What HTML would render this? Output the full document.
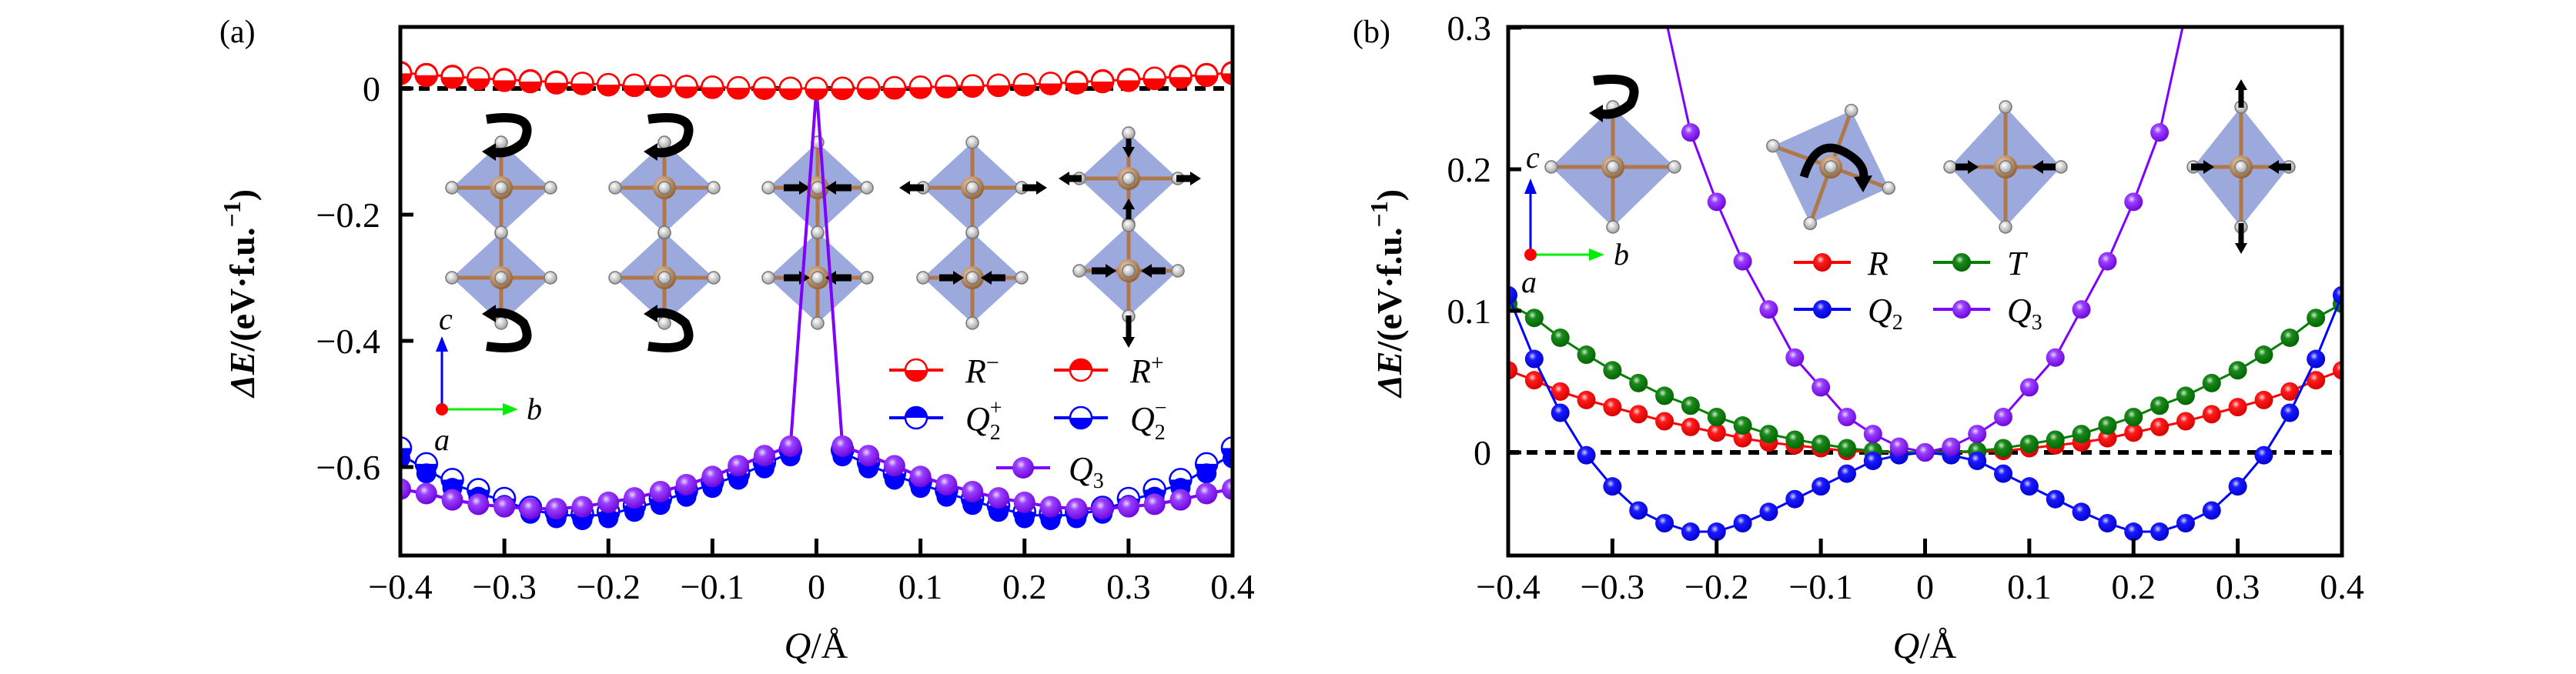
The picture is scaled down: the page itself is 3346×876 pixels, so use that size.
<!DOCTYPE html>
<html><head><meta charset="utf-8"><style>
html,body{margin:0;padding:0;background:#fff;}
svg{display:block;font-family:"Liberation Serif",serif;}
</style></head><body>
<svg id="fig" width="3346" height="876" viewBox="0 0 3346 876" xmlns="http://www.w3.org/2000/svg">
<defs>
<radialGradient id="gPurple" cx="0.4" cy="0.35" r="0.7"><stop offset="0" stop-color="#e8d8ff"/><stop offset="0.3" stop-color="#9a40ff"/><stop offset="1" stop-color="#6a00d8"/></radialGradient>
<radialGradient id="gRed" cx="0.4" cy="0.35" r="0.7"><stop offset="0" stop-color="#ffd0d0"/><stop offset="0.3" stop-color="#ff1a1a"/><stop offset="1" stop-color="#d00000"/></radialGradient>
<radialGradient id="gGreen" cx="0.4" cy="0.35" r="0.7"><stop offset="0" stop-color="#cfe8cf"/><stop offset="0.3" stop-color="#1a8a1a"/><stop offset="1" stop-color="#006000"/></radialGradient>
<radialGradient id="gBlue" cx="0.4" cy="0.35" r="0.7"><stop offset="0" stop-color="#d0d0ff"/><stop offset="0.3" stop-color="#1a1aff"/><stop offset="1" stop-color="#0000c8"/></radialGradient>
<radialGradient id="gBall" cx="0.4" cy="0.35" r="0.7"><stop offset="0" stop-color="#fff"/><stop offset="1" stop-color="#999"/></radialGradient>
<radialGradient id="gCu" cx="0.4" cy="0.35" r="0.7"><stop offset="0" stop-color="#f0d0b0"/><stop offset="1" stop-color="#8a5a30"/></radialGradient>
<clipPath id="clipA"><rect x="520" y="35" width="1081" height="687"/></clipPath>
<clipPath id="clipB"><rect x="1959" y="35" width="1083" height="687"/></clipPath>
</defs>
<g id="insets"></g>
<g id="panelA"></g>
<g id="panelB"></g>
</svg>
<script>
// ---------- Panel (a) data ----------
const qA = [-0.4,-0.375,-0.35,-0.325,-0.3,-0.275,-0.25,-0.225,-0.2,-0.175,-0.15,-0.125,-0.1,-0.075,-0.05,-0.025,0,0.025,0.05,0.075,0.1,0.125,0.15,0.175,0.2,0.225,0.25,0.275,0.3,0.325,0.35,0.375,0.4];
const rMinusA = [0.025,0.022,0.019,0.016,0.014,0.012,0.010,0.008,0.006,0.005,0.004,0.003,0.002,0.001,0.0005,0.0002,0,0.0002,0.0005,0.001,0.002,0.003,0.004,0.005,0.006,0.008,0.010,0.012,0.014,0.016,0.019,0.022,0.025];
const rPlusA = [0.024,0.021,0.018,0.016,0.013,0.011,0.009,0.008,0.006,0.005,0.004,0.003,0.002,0.001,0.0005,0.0002,0,0.0002,0.0005,0.001,0.002,0.003,0.004,0.005,0.006,0.008,0.009,0.011,0.013,0.016,0.018,0.021,0.024];
const q2PlusA = [-0.580,-0.604,-0.627,-0.641,-0.654,-0.668,-0.675,-0.678,-0.675,-0.665,-0.654,-0.641,-0.627,-0.614,-0.596,-0.577,0,-0.577,-0.596,-0.614,-0.627,-0.641,-0.654,-0.665,-0.675,-0.678,-0.675,-0.668,-0.654,-0.641,-0.627,-0.604,-0.580];
const q2MinusA = [-0.570,-0.595,-0.620,-0.636,-0.650,-0.664,-0.671,-0.674,-0.671,-0.661,-0.650,-0.637,-0.623,-0.610,-0.592,-0.573,0,-0.573,-0.592,-0.610,-0.623,-0.637,-0.650,-0.661,-0.671,-0.674,-0.671,-0.664,-0.650,-0.636,-0.620,-0.595,-0.570];
const q3A = [-0.635,-0.642,-0.652,-0.659,-0.663,-0.666,-0.666,-0.663,-0.656,-0.649,-0.639,-0.628,-0.615,-0.598,-0.582,-0.567,0,-0.567,-0.582,-0.598,-0.615,-0.628,-0.639,-0.649,-0.656,-0.663,-0.666,-0.666,-0.663,-0.659,-0.652,-0.642,-0.635];
const xTicksA = [-0.4,-0.3,-0.2,-0.1,0,0.1,0.2,0.3,0.4];
const xTickLabelsA = ["\u22120.4","\u22120.3","\u22120.2","\u22120.1","0","0.1","0.2","0.3","0.4"];
const yTicksA = [0,-0.2,-0.4,-0.6];
const yTickLabelsA = ["0","\u22120.2","\u22120.4","\u22120.6"];

// ---------- Panel (b) data ----------
const qB = qA.slice();
const rB = [0.058,0.051,0.043,0.037,0.032,0.027,0.022,0.018,0.014,0.010,0.007,0.005,0.003,0.001,0.0005,0.0001,0,0.0001,0.0005,0.001,0.003,0.005,0.007,0.010,0.014,0.018,0.022,0.027,0.032,0.037,0.043,0.051,0.058];
const tB = [0.105,0.095,0.081,0.069,0.058,0.049,0.040,0.033,0.025,0.019,0.013,0.009,0.006,0.003,0.001,0.0003,0,0.0003,0.001,0.003,0.006,0.009,0.013,0.019,0.025,0.033,0.040,0.049,0.058,0.069,0.081,0.095,0.105];
const q2B = [0.111,0.066,0.028,-0.002,-0.024,-0.041,-0.050,-0.056,-0.056,-0.050,-0.042,-0.033,-0.024,-0.015,-0.006,-0.002,0,-0.002,-0.006,-0.015,-0.024,-0.033,-0.042,-0.050,-0.056,-0.056,-0.050,-0.041,-0.024,-0.002,0.028,0.066,0.111];
const qQ3B = [-0.25,-0.225,-0.2,-0.175,-0.15,-0.125,-0.1,-0.075,-0.05,-0.025,0,0.025,0.05,0.075,0.1,0.125,0.15,0.175,0.2,0.225,0.25];
const q3B = [0.31,0.226,0.177,0.135,0.101,0.067,0.046,0.025,0.013,0.004,0,0.004,0.013,0.025,0.046,0.067,0.101,0.135,0.177,0.226,0.31];
const xTicksB = xTicksA.slice();
const xTickLabelsB = xTickLabelsA.slice();
const yTicksB = [0,0.1,0.2,0.3];
const yTickLabelsB = ["0","0.1","0.2","0.3"];

const NS = "http://www.w3.org/2000/svg";
function mk(tag, attrs, parent){const e=document.createElementNS(NS,tag);for(const k in attrs)e.setAttribute(k,attrs[k]);parent.appendChild(e);return e;}

const xA = v => 520 + (v+0.4)/0.8*1081;
const yA = v => 115 - v*820;
const xB = v => 1959 + (v+0.4)/0.8*1083;
const yB = v => 588 - v*1840;

function halfMarker(g,cx,cy,r,color,bottomFilled){
  const c=mk('circle',{cx:cx,cy:cy,r:r,fill:'#fff',stroke:color,'stroke-width':2.5},g);
  const d = bottomFilled ? `M${cx-r},${cy} A${r},${r} 0 0 0 ${cx+r},${cy} Z` : `M${cx-r},${cy} A${r},${r} 0 0 1 ${cx+r},${cy} Z`;
  mk('path',{d:d,fill:color},g);
  return c;
}
function line(g,xs,ys,fx,fy,color,w){
  const pts=xs.map((x,i)=>fx(x)+','+fy(ys[i])).join(' ');
  return mk('polyline',{points:pts,fill:'none',stroke:color,'stroke-width':w},g);
}

// ---------- Insets (octahedra) ----------
const ins=document.getElementById('insets');
function octa(cx,cy,hw,hh,rot){
  const g=mk('g',{transform:`translate(${cx},${cy}) rotate(${rot||0})`},ins);
  
  
  mk('polygon',{points:`0,${-hh} ${hw},0 0,${hh} ${-hw},0`,fill:'#7a8cd0','fill-opacity':0.75},g);
  mk('line',{x1:-hw,y1:0,x2:hw,y2:0,stroke:'#b07848','stroke-width':5},g);
  mk('line',{x1:0,y1:-hh,x2:0,y2:hh,stroke:'#b07848','stroke-width':5},g);
  mk('circle',{cx:0,cy:0,r:15,fill:'url(#gCu)'},g);
  [[0,-hh],[hw,0],[0,hh],[-hw,0],[0,0]].forEach(p=>mk('circle',{cx:p[0],cy:p[1],r:8,fill:'url(#gBall)',stroke:'#777','stroke-width':1.5},g));
}
function arrowH(x1,y,x2){
  const dir = x2>x1?1:-1;
  mk('line',{x1:x1,y1:y,x2:x2-dir*12,y2:y,stroke:'#000','stroke-width':9},ins);
  mk('polygon',{points:`${x2},${y} ${x2-dir*14},${y-9} ${x2-dir*14},${y+9}`,fill:'#000'},ins);
}
function arrowV(x,y1,y2){
  const dir = y2>y1?1:-1;
  mk('line',{x1:x,y1:y1,x2:x,y2:y2-dir*12,stroke:'#000','stroke-width':7},ins);
  mk('polygon',{points:`${x},${y2} ${x-8},${y2-dir*14} ${x+8},${y2-dir*14}`,fill:'#000'},ins);
}
function curl(cx,cy,flip){
  mk('path',{d:`M${cx-28},${cy-30} Q${cx+40},${cy-40} ${cx+20},${cy} Q${cx},${cy+18} ${cx-22},${cy+12}`,fill:'none',stroke:'#000','stroke-width':12,transform:flip?`translate(0,${2*cy}) scale(1,-1)`:''},ins);
  mk('polygon',{points:`${cx-34},${cy+12} ${cx-16},${cy+1} ${cx-16},${cy+24}`,fill:'#000',transform:flip?`translate(0,${2*cy}) scale(1,-1)`:''},ins);
}
[[651,244],[651,361],[863,244],[863,361],[1062,244],[1062,361],[1263,244],[1263,361],[1466,232],[1466,352]].forEach(p=>octa(p[0],p[1],64,59,0));
curl(660,185,false); curl(660,420,true); curl(870,185,false); curl(870,420,true);
arrowH(1018,244,1052); arrowH(1106,244,1072); arrowH(1018,361,1052); arrowH(1106,361,1072);
arrowH(1200,244,1168); arrowH(1328,244,1360);
arrowH(1220,361,1252); arrowH(1306,361,1274);
arrowH(1405,232,1375); arrowH(1528,232,1560);
arrowV(1466,180,205); arrowV(1466,285,258); arrowH(1418,352,1450); arrowH(1514,352,1482); arrowV(1466,410,452);
octa(2095,217,80,78,0); octa(2378,217,80,78,20); octa(2605,217,72,78,0); octa(2911,217,62,78,0);
curl(2098,135,false);
mk('path',{d:'M2343,230 Q2360,175 2400,200 Q2425,215 2420,235',fill:'none',stroke:'#000','stroke-width':11},ins);
mk('polygon',{points:'2408,230 2432,228 2420,250',fill:'#000'},ins);
arrowH(2540,217,2570); arrowH(2670,217,2640);
arrowH(2846,217,2876); arrowH(2976,217,2946);
arrowV(2911,140,103); arrowV(2911,290,330);

// ---------- Panel (a) ----------
const A=document.getElementById('panelA');
const plotA=mk('g',{'clip-path':'url(#clipA)'},A);
const zA=mk('line',{x1:520,y1:yA(0),x2:1601,y2:yA(0),stroke:'#000','stroke-width':6,'stroke-dasharray':'14 10'},plotA);


const lrm=line(plotA,qA,rMinusA,xA,yA,'#f00',3);


qA.forEach((q,i)=>{const m=halfMarker(plotA,xA(q),yA(rMinusA[i]),14,'#f00',true);
  
  });
const lq2l=line(plotA,qA.slice(0,16),q2PlusA.slice(0,16),xA,yA,'#00f',3);


const lq2r=line(plotA,qA.slice(17),q2PlusA.slice(17),xA,yA,'#00f',3);


qA.forEach((q,i)=>{if(i==16)return;const m=halfMarker(plotA,xA(q),yA(q2MinusA[i]),14,'#00f',true);
  
  });
qA.forEach((q,i)=>{if(i==16)return;const m=mk('circle',{cx:xA(q),cy:yA(q2PlusA[i])+5,r:13,fill:'#00f'},plotA);
  
  });
const lq3=line(plotA,qA,q3A,xA,yA,'#7f00ff',4);


qA.forEach((q,i)=>{if(i==16)return;const m=mk('circle',{cx:xA(q),cy:yA(q3A[i]),r:14,fill:'url(#gPurple)'},plotA);
  
  });
qA.forEach((q,i)=>{const m=halfMarker(plotA,xA(q),yA(rPlusA[i]),14,'#f00',true);
  
  });

const fa=mk('rect',{x:520,y:35,width:1081,height:687,fill:'none',stroke:'#000','stroke-width':5},A);


xTicksA.forEach((v,i)=>{
  mk('line',{x1:xA(v),y1:722,x2:xA(v),y2:700,stroke:'#000','stroke-width':5},A);
  const t=mk('text',{x:xA(v),y:778,'font-size':46,'text-anchor':'middle'},A);t.textContent=xTickLabelsA[i];
  
  
});
yTicksA.forEach((v,i)=>{
  mk('line',{x1:520,y1:yA(v),x2:537,y2:yA(v),stroke:'#000','stroke-width':5},A);
  const t=mk('text',{x:494,y:yA(v)+16,'font-size':46,'text-anchor':'end'},A);t.textContent=yTickLabelsA[i];
  
  
});

// ---------- Panel (b) ----------
const B=document.getElementById('panelB');
const plotB=mk('g',{'clip-path':'url(#clipB)'},B);
const zB=mk('line',{x1:1959,y1:yB(0),x2:3042,y2:yB(0),stroke:'#000','stroke-width':6,'stroke-dasharray':'14 10'},plotB);


function seriesB(xs,ys,color,grad,name){
  const l=line(plotB,xs,ys,xB,yB,color,3);
  
  
  xs.forEach((q,i)=>{const m=mk('circle',{cx:xB(q),cy:yB(ys[i]),r:12,fill:grad},plotB);
    
    });
}
seriesB(qB,rB,'#f00','url(#gRed)','r');
seriesB(qB,tB,'#008000','url(#gGreen)','t');
seriesB(qB,q2B,'#00f','url(#gBlue)','q2');
seriesB(qQ3B,q3B,'#7f00ff','url(#gPurple)','q3');

const fb=mk('rect',{x:1959,y:35,width:1083,height:687,fill:'none',stroke:'#000','stroke-width':5},B);


xTicksB.forEach((v,i)=>{
  mk('line',{x1:xB(v),y1:722,x2:xB(v),y2:700,stroke:'#000','stroke-width':5},B);
  const t=mk('text',{x:xB(v),y:778,'font-size':46,'text-anchor':'middle'},B);t.textContent=xTickLabelsB[i];
  
  
});
yTicksB.forEach((v,i)=>{
  mk('line',{x1:1959,y1:yB(v),x2:1976,y2:yB(v),stroke:'#000','stroke-width':5},B);
  const t=mk('text',{x:1937,y:yB(v)+16,'font-size':46,'text-anchor':'end'},B);t.textContent=yTickLabelsB[i];
  
  
});
</script>
<svg width="3346" height="876" style="position:absolute;left:0;top:0" xmlns="http://www.w3.org/2000/svg">
<g font-family="Liberation Serif, serif">
<text x="285" y="55" font-size="42">(a)</text>
<text x="1757" y="55" font-size="42">(b)</text>
<text transform="translate(330,381) rotate(-90)" font-size="46" font-weight="bold" text-anchor="middle"><tspan font-style="italic">ΔE</tspan>/(eV·f.u.<tspan baseline-shift="super" font-size="32">−1</tspan>)</text>
<text transform="translate(1820,381) rotate(-90)" font-size="46" font-weight="bold" text-anchor="middle"><tspan font-style="italic">ΔE</tspan>/(eV·f.u.<tspan baseline-shift="super" font-size="32">−1</tspan>)</text>
<text x="1060" y="855" font-size="48" text-anchor="middle"><tspan font-style="italic">Q</tspan>/Å</text>
<text x="2500" y="855" font-size="48" text-anchor="middle"><tspan font-style="italic">Q</tspan>/Å</text>
<g>
<line x1="574" y1="532" x2="574" y2="452" stroke="#00f" stroke-width="3"/><polygon points="574,437 566,457 582,457" fill="#00f"/>
<line x1="574" y1="532" x2="658" y2="532" stroke="#0e0" stroke-width="3"/><polygon points="673,532 653,524 653,540" fill="#0e0"/>
<circle cx="574" cy="532" r="8" fill="#f00"/>
<text x="570" y="428" font-size="40" font-style="italic">c</text>
<text x="684" y="545" font-size="40" font-style="italic">b</text>
<text x="564" y="585" font-size="40" font-style="italic">a</text>
</g>
<g>
<line x1="1988" y1="331" x2="1988" y2="247" stroke="#00f" stroke-width="3"/><polygon points="1988,232 1980,252 1996,252" fill="#00f"/>
<line x1="1988" y1="331" x2="2069" y2="331" stroke="#0e0" stroke-width="3"/><polygon points="2084,331 2064,323 2064,339" fill="#0e0"/>
<circle cx="1988" cy="331" r="8" fill="#f00"/>
<text x="1982" y="218" font-size="40" font-style="italic">c</text>
<text x="2096" y="344" font-size="40" font-style="italic">b</text>
<text x="1976" y="380" font-size="40" font-style="italic">a</text>
</g>
<g font-size="44" font-style="italic">
<g><line x1="1155" y1="481" x2="1225" y2="481" stroke="#f00" stroke-width="4"/><circle cx="1190" cy="481" r="14" fill="#fff" stroke="#f00" stroke-width="2.5"/><path d="M1176,481 A14,14 0 0 0 1204,481 Z" fill="#f00"/><text x="1254" y="497">R<tspan baseline-shift="super" font-size="30" font-style="normal">−</tspan></text></g>
<g><line x1="1369" y1="481" x2="1439" y2="481" stroke="#f00" stroke-width="4"/><circle cx="1404" cy="481" r="14" fill="#fff" stroke="#f00" stroke-width="2.5"/><path d="M1390,481 A14,14 0 0 1 1418,481 Z" fill="#f00"/><text x="1468" y="497">R<tspan baseline-shift="super" font-size="30" font-style="normal">+</tspan></text></g>
<g><line x1="1155" y1="543" x2="1225" y2="543" stroke="#00f" stroke-width="4"/><circle cx="1190" cy="543" r="14" fill="#fff" stroke="#00f" stroke-width="2.5"/><path d="M1176,543 A14,14 0 0 1 1204,543 Z" fill="#00f"/><text x="1254" y="559">Q<tspan font-size="28" font-style="normal" dy="12">2</tspan><tspan font-size="28" font-style="normal" dx="-14" dy="-32">+</tspan></text></g>
<g><line x1="1369" y1="543" x2="1439" y2="543" stroke="#00f" stroke-width="4"/><circle cx="1404" cy="543" r="14" fill="#fff" stroke="#00f" stroke-width="2.5"/><path d="M1390,543 A14,14 0 0 0 1418,543 Z" fill="#00f"/><text x="1468" y="559">Q<tspan font-size="28" font-style="normal" dy="12">2</tspan><tspan font-size="28" font-style="normal" dx="-14" dy="-32">−</tspan></text></g>
<g><line x1="1294" y1="608" x2="1364" y2="608" stroke="#7f00ff" stroke-width="4"/><circle cx="1329" cy="608" r="14" fill="url(#gPurple)"/><text x="1388" y="624">Q<tspan font-size="28" font-style="normal" dy="10">3</tspan></text></g>
</g>
<g font-size="44" font-style="italic">
<g><line x1="2330" y1="341" x2="2404" y2="341" stroke="#f00" stroke-width="4"/><circle cx="2367" cy="341" r="12" fill="url(#gRed)"/><text x="2426" y="357">R</text></g>
<g><line x1="2511" y1="341" x2="2585" y2="341" stroke="#008000" stroke-width="4"/><circle cx="2548" cy="341" r="12" fill="url(#gGreen)"/><text x="2607" y="357">T</text></g>
<g><line x1="2330" y1="402" x2="2404" y2="402" stroke="#00f" stroke-width="4"/><circle cx="2367" cy="402" r="12" fill="url(#gBlue)"/><text x="2426" y="418">Q<tspan font-size="28" font-style="normal" dy="10">2</tspan></text></g>
<g><line x1="2511" y1="402" x2="2585" y2="402" stroke="#7f00ff" stroke-width="4"/><circle cx="2548" cy="402" r="12" fill="url(#gPurple)"/><text x="2607" y="418">Q<tspan font-size="28" font-style="normal" dy="10">3</tspan></text></g>
</g>
</g>
</svg>
</body></html>
